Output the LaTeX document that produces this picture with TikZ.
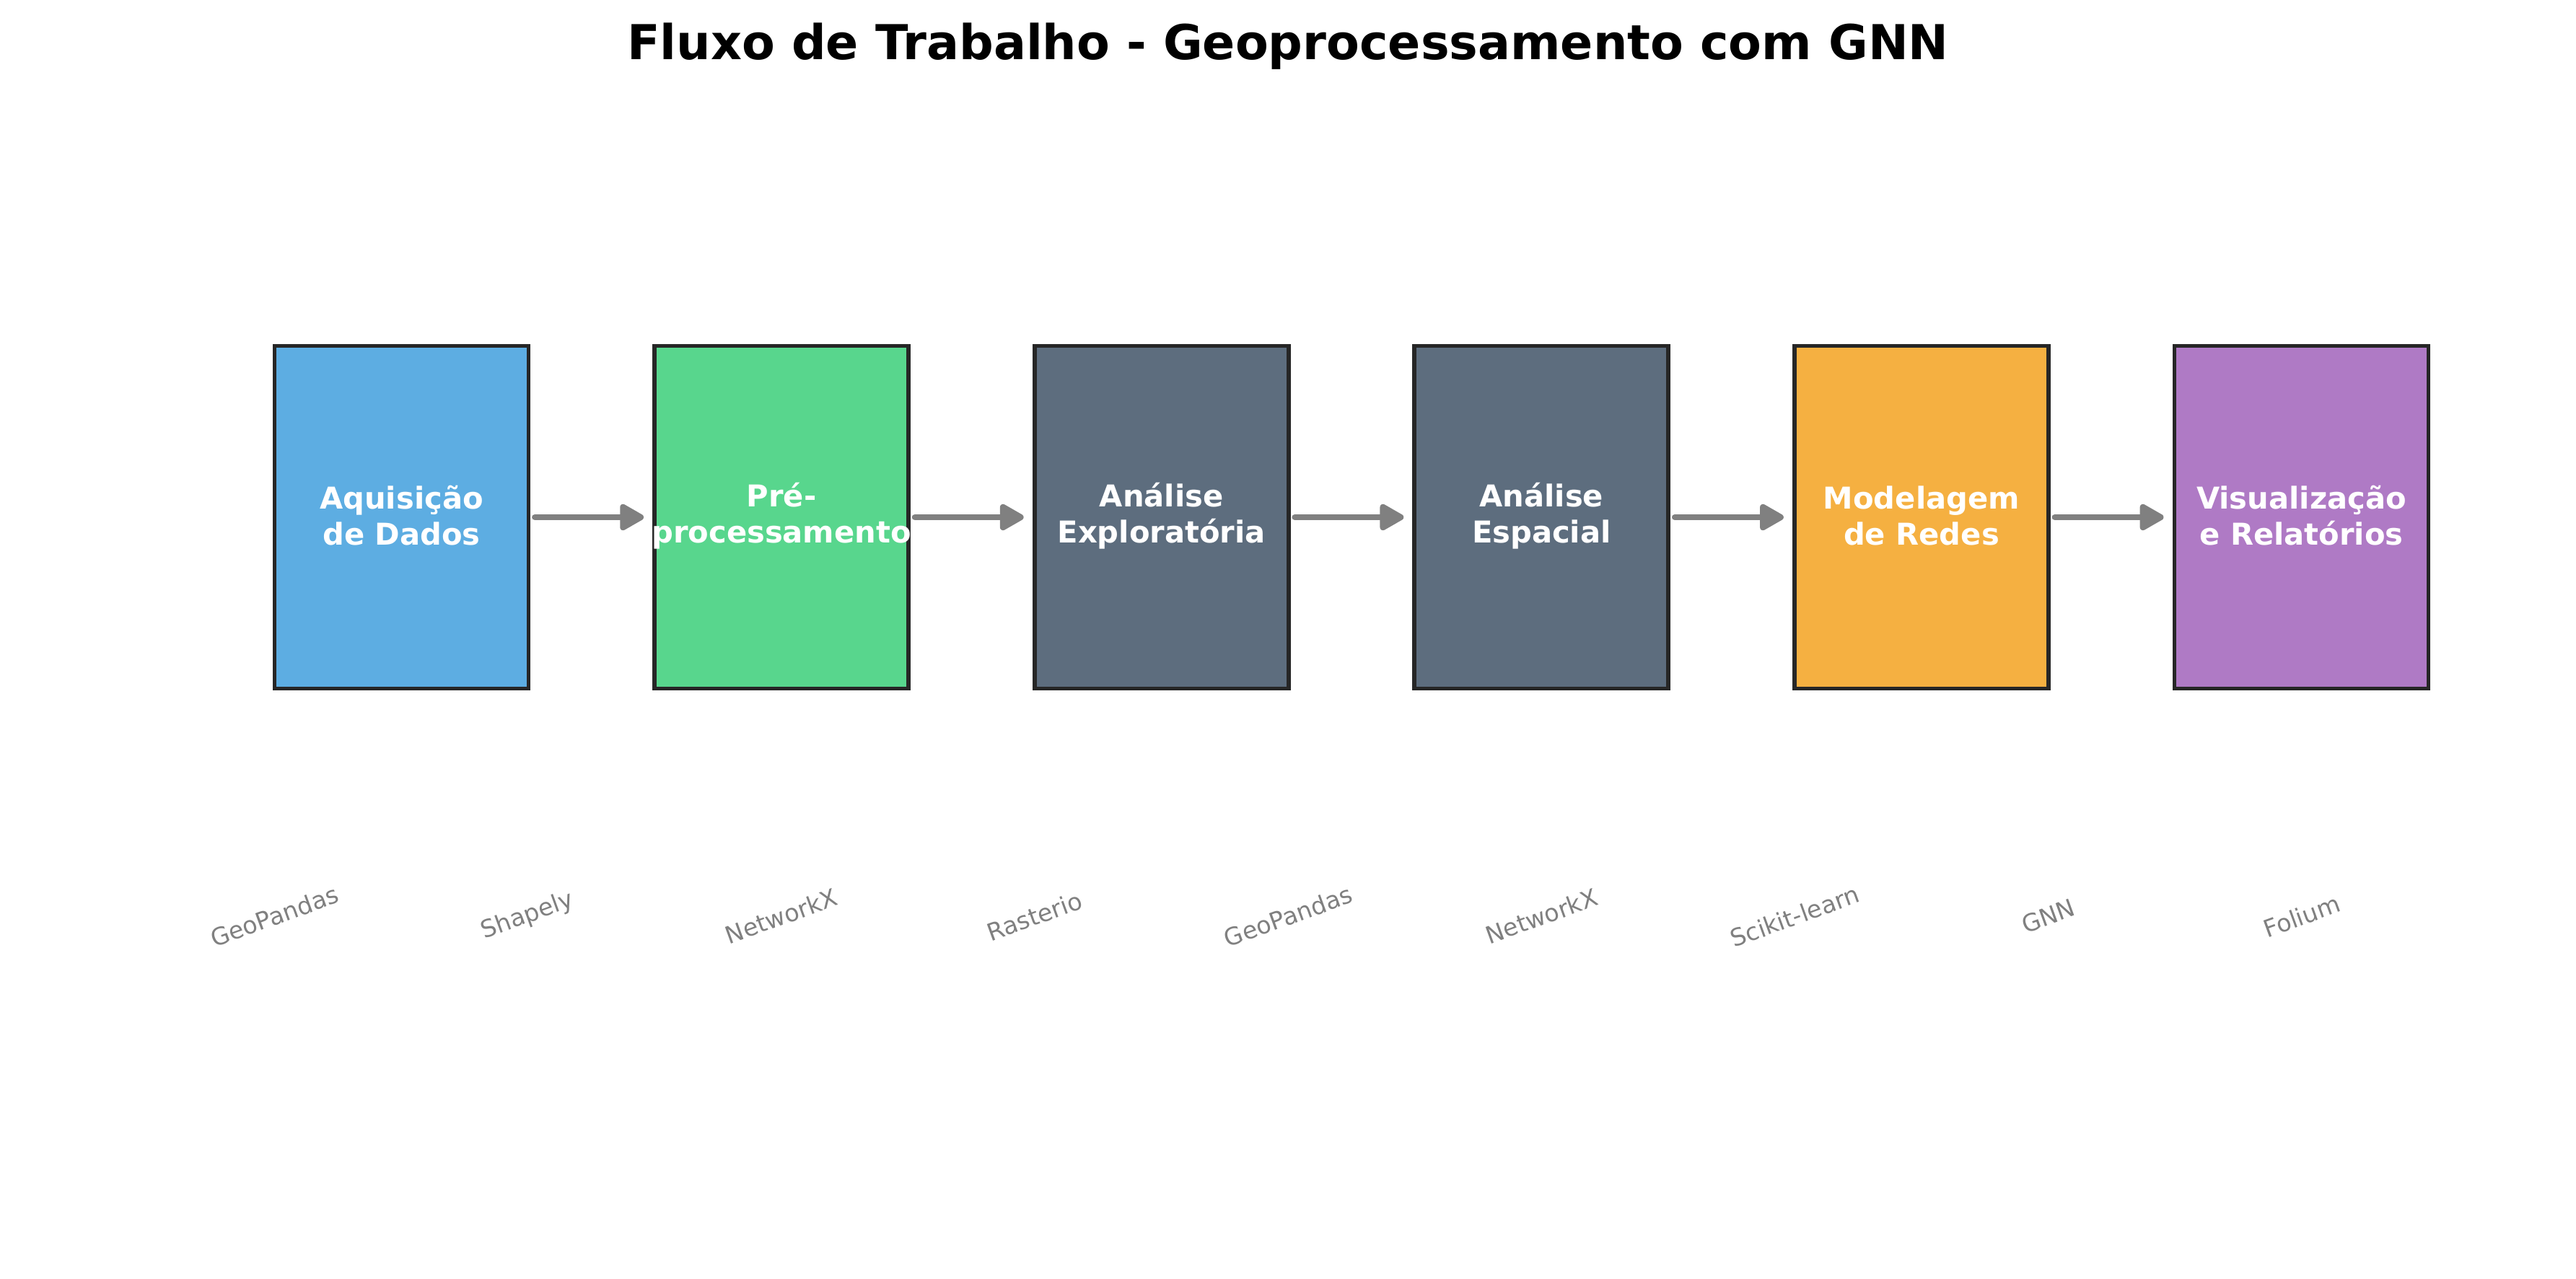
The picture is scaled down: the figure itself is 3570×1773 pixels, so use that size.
\documentclass[tikz,border=0pt]{standalone}
\usepackage{fontspec}
\setmainfont{DejaVu Sans}
\usetikzlibrary{arrows.meta}
\definecolor{cblue}{HTML}{5DADE2}
\definecolor{cgreen}{HTML}{58D68D}
\definecolor{cslate}{HTML}{5D6D7E}
\definecolor{corange}{HTML}{F5B041}
\definecolor{cpurple}{HTML}{AF7AC5}
\definecolor{cedge}{HTML}{262626}
\definecolor{cgray}{HTML}{808080}
\tikzset{
  stagebox/.style={draw=cedge, line width=1.4pt, minimum width=84.5pt, minimum height=114pt, inner sep=0pt},
  boxtext/.style={text=white, font=\bfseries\fontsize{10}{12}\selectfont, align=center, inner sep=0pt, yshift=0.5pt},
  flowarrow/.style={draw=cgray, line width=2pt, line cap=round, -{Triangle[length=9pt,width=9.6pt,round]}},
  tool/.style={text=cgray, font=\fontsize{8}{9.6}\selectfont, rotate=20, inner sep=0pt},
  titletext/.style={font=\bfseries\fontsize{16}{19}\selectfont, inner sep=0pt}
}
\begin{document}
\begin{tikzpicture}[x=0.24pt, y=-0.24pt]
\useasboundingbox[fill=white] (0,0) rectangle (3570,1773);
\node[titletext, anchor=base] (title) at (1785,82) {Fluxo de Trabalho - Geoprocessamento com GNN};

\node[stagebox, fill=cblue]   (b1) at (556.5,717) {};
\node[stagebox, fill=cgreen]  (b2) at (1083.1,717) {};
\node[stagebox, fill=cslate]  (b3) at (1609.7,717) {};
\node[stagebox, fill=cslate]  (b4) at (2136.3,717) {};
\node[stagebox, fill=corange] (b5) at (2662.9,717) {};
\node[stagebox, fill=cpurple] (b6) at (3189.5,717) {};

\node[boxtext] (l1) at (b1) {Aquisição\\de Dados};
\node[boxtext] (l2) at (b2) {Pré-\\processamento};
\node[boxtext] (l3) at (b3) {Análise\\Exploratória};
\node[boxtext] (l4) at (b4) {Análise\\Espacial};
\node[boxtext] (l5) at (b5) {Modelagem\\de Redes};
\node[boxtext] (l6) at (b6) {Visualização\\e Relatórios};

\foreach \a/\b in {b1/b2,b2/b3,b3/b4,b4/b5,b5/b6}
  \draw[flowarrow] ([xshift=1.4pt]\a.east) -- ([xshift=-2.9pt]\b.west);

\foreach \t [count=\i from 0] in {GeoPandas,Shapely,NetworkX,Rasterio,GeoPandas,NetworkX,Scikit-learn,GNN,Folium}
  \node[tool] (t\i) at (380.2+351.2*\i,1270) {\t};
\end{tikzpicture}
\end{document}
